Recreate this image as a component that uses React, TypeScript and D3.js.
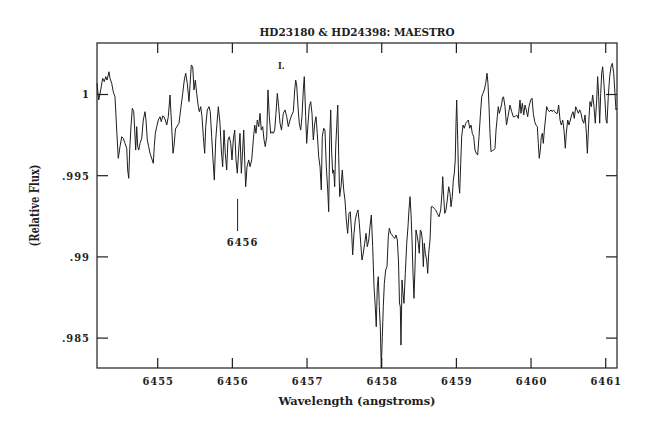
import React from 'react';
import * as d3 from 'd3';

const wavelength = [
6454.187,6454.210,6454.237,6454.263,6454.285,6454.304,6454.321,6454.348,6454.361,6454.384,
6454.405,6454.428,6454.451,6454.472,6454.495,6454.518,6454.539,6454.562,6454.585,6454.598,
6454.612,6454.625,6454.642,6454.660,6454.679,6454.692,6454.705,6454.719,6454.732,6454.746,
6454.763,6454.786,6454.807,6454.830,6454.843,6454.861,6454.879,6454.897,6454.941,6454.954,
6454.968,6454.987,6455.008,6455.031,6455.048,6455.067,6455.084,6455.102,6455.121,6455.142,
6455.165,6455.187,6455.205,6455.218,6455.238,6455.262,6455.285,6455.312,6455.335,6455.356,
6455.375,6455.396,6455.419,6455.433,6455.450,6455.469,6455.486,6455.504,6455.522,6455.544,
6455.557,6455.576,6455.593,6455.611,6455.629,6455.643,6455.664,6455.687,6455.704,6455.723,
6455.741,6455.758,6455.777,6455.794,6455.812,6455.834,6455.852,6455.870,6455.888,6455.905,
6455.924,6455.941,6455.959,6455.978,6455.995,6456.012,6456.031,6456.049,6456.066,6456.085,
6456.102,6456.120,6456.138,6456.152,6456.165,6456.178,6456.196,6456.219,6456.236,6456.259,
6456.280,6456.299,6456.316,6456.334,6456.353,6456.370,6456.387,6456.406,6456.424,6456.441,
6456.460,6456.477,6456.495,6456.513,6456.531,6456.548,6456.567,6456.584,6456.602,6456.620,
6456.638,6456.658,6456.682,6456.705,6456.728,6456.749,6456.772,6456.795,6456.816,6456.835,
6456.848,6456.861,6456.879,6456.896,6456.915,6456.932,6456.950,6456.963,6456.982,6456.995,
6457.013,6457.030,6457.049,6457.066,6457.084,6457.103,6457.120,6457.137,6457.156,6457.174,
6457.191,6457.204,6457.223,6457.240,6457.258,6457.277,6457.290,6457.303,6457.317,6457.330,
6457.344,6457.357,6457.370,6457.384,6457.397,6457.411,6457.424,6457.437,6457.455,6457.472,
6457.491,6457.508,6457.526,6457.544,6457.562,6457.579,6457.598,6457.611,6457.629,6457.646,
6457.665,6457.682,6457.700,6457.719,6457.736,6457.753,6457.772,6457.790,6457.807,6457.826,
6457.843,6457.861,6457.879,6457.897,6457.914,6457.927,6457.941,6457.954,6457.968,6457.981,
6457.994,6458.008,6458.021,6458.035,6458.053,6458.071,6458.088,6458.102,6458.120,6458.138,
6458.155,6458.174,6458.191,6458.209,6458.225,6458.238,6458.249,6458.258,6458.272,6458.285,
6458.298,6458.316,6458.335,6458.352,6458.365,6458.379,6458.392,6458.406,6458.419,6458.432,
6458.446,6458.459,6458.477,6458.490,6458.503,6458.517,6458.530,6458.544,6458.557,6458.570,
6458.584,6458.602,6458.616,6458.629,6458.647,6458.664,6458.683,6458.700,6458.723,6458.744,
6458.767,6458.790,6458.807,6458.817,6458.830,6458.844,6458.861,6458.878,6458.897,6458.915,
6458.928,6458.945,6458.959,6458.972,6458.985,6458.995,6459.004,6459.018,6459.031,6459.044,
6459.058,6459.071,6459.089,6459.106,6459.125,6459.142,6459.160,6459.178,6459.196,6459.213,
6459.232,6459.249,6459.267,6459.285,6459.303,6459.320,6459.339,6459.356,6459.374,6459.393,
6459.410,6459.423,6459.437,6459.450,6459.464,6459.481,6459.500,6459.517,6459.531,6459.548,
6459.561,6459.575,6459.588,6459.604,6459.618,6459.631,6459.651,6459.671,6459.691,6459.718,
6459.741,6459.762,6459.785,6459.808,6459.829,6459.852,6459.865,6459.883,6459.902,6459.919,
6459.936,6459.955,6459.972,6459.995,6460.013,6460.030,6460.049,6460.066,6460.084,6460.097,
6460.110,6460.124,6460.137,6460.151,6460.164,6460.178,6460.196,6460.209,6460.227,6460.247,
6460.267,6460.285,6460.301,6460.317,6460.334,6460.352,6460.370,6460.388,6460.405,6460.424,
6460.441,6460.459,6460.472,6460.491,6460.508,6460.526,6460.544,6460.562,6460.579,6460.598,
6460.616,6460.633,6460.652,6460.669,6460.687,6460.706,6460.723,6460.741,6460.754,6460.772,
6460.789,6460.807,6460.825,6460.843,6460.860,6460.879,6460.892,6460.906,6460.919,6460.933,
6460.946,6460.959,6460.973,6460.990,6461.004,6461.017,6461.034,6461.053,6461.071,6461.088,
6461.107,6461.124,6461.137,6461.151
];

const flux = [
1.00069,0.99966,1.00028,1.00100,1.00079,1.00110,1.00089,1.00140,1.00100,1.00069,
1.00017,0.99986,0.99781,0.99607,0.99679,0.99740,0.99730,0.99699,0.99669,0.99535,
0.99484,0.99658,0.99802,0.99915,0.99894,0.99781,0.99658,0.99802,0.99679,0.99658,
0.99699,0.99730,0.99843,0.99894,0.99843,0.99720,0.99679,0.99638,0.99576,0.99679,
0.99761,0.99802,0.99843,0.99863,0.99833,0.99868,0.99863,0.99843,0.99812,0.99863,
0.99997,0.99802,0.99638,0.99679,0.99788,0.99806,0.99823,0.99925,1.00007,1.00089,
1.00131,1.00069,0.99956,1.00059,1.00182,1.00171,1.00028,1.00089,1.00007,0.99925,
0.99894,0.99925,0.99863,0.99740,0.99638,0.99802,0.99905,0.99925,0.99894,0.99740,
0.99597,0.99473,0.99720,0.99823,0.99925,0.99823,0.99658,0.99555,0.99781,0.99638,
0.99535,0.99720,0.99740,0.99699,0.99597,0.99720,0.99781,0.99597,0.99515,0.99658,
0.99761,0.99515,0.99658,0.99781,0.99597,0.99432,0.99555,0.99597,0.99555,0.99597,
0.99720,0.99812,0.99761,0.99843,0.99802,0.99884,0.99781,0.99802,0.99720,0.99679,
0.99740,1.00028,0.99863,0.99761,0.99771,0.99761,0.99781,0.99884,1.00007,0.99925,
0.99823,0.99781,0.99884,0.99905,0.99863,0.99802,0.99843,0.99874,0.99894,1.00028,
1.00089,1.00059,0.99925,0.99823,0.99781,0.99863,1.00028,1.00110,0.99863,0.99699,
0.99823,0.99925,0.99956,0.99884,0.99720,0.99823,0.99863,0.99761,0.99617,0.99555,
0.99412,0.99740,0.99792,0.99781,0.99555,0.99412,0.99278,0.99720,0.99905,0.99638,
0.99515,0.99535,0.99432,0.99679,0.99802,0.99935,0.99617,0.99371,0.99432,0.99535,
0.99412,0.99350,0.99227,0.99145,0.99268,0.99278,0.99145,0.99012,0.99145,0.99227,
0.99268,0.99289,0.99207,0.99084,0.98981,0.99022,0.99084,0.99145,0.99063,0.99104,
0.99186,0.99258,0.99063,0.98816,0.98693,0.98570,0.98816,0.98878,0.98693,0.98570,
0.98316,0.98508,0.98693,0.98837,0.98919,0.98940,0.99124,0.99176,0.99145,0.99135,
0.99124,0.99114,0.99135,0.99104,0.98969,0.98716,0.98693,0.98457,0.98858,0.98776,
0.98714,0.98899,0.99084,0.99186,0.99289,0.99371,0.99268,0.99104,0.98899,0.98745,
0.98940,0.99166,0.99124,0.99084,0.99022,0.99166,0.99155,0.99104,0.98940,0.99084,
0.99022,0.98981,0.98899,0.99022,0.99104,0.99309,0.99309,0.99299,0.99289,0.99268,
0.99247,0.99289,0.99392,0.99494,0.99371,0.99268,0.99289,0.99350,0.99432,0.99392,
0.99309,0.99371,0.99473,0.99515,0.99597,0.99823,0.99966,0.99720,0.99453,0.99392,
0.99576,0.99740,0.99812,0.99792,0.99823,0.99833,0.99843,0.99792,0.99812,0.99761,
0.99740,0.99658,0.99638,0.99627,0.99740,0.99863,0.99986,1.00007,1.00028,1.00069,
1.00131,1.00069,0.99925,0.99761,0.99648,0.99654,0.99658,0.99669,0.99781,0.99863,
0.99925,0.99884,0.99905,0.99935,0.99978,0.99986,0.99925,0.99812,0.99863,0.99935,
0.99894,0.99863,0.99863,0.99874,0.99853,0.99966,0.99884,0.99946,0.99874,0.99935,
0.99905,0.99863,0.99925,0.99966,0.99977,0.99884,0.99833,0.99812,0.99802,0.99699,
0.99607,0.99658,0.99740,0.99761,0.99699,0.99781,0.99863,0.99925,0.99905,0.99894,
0.99905,0.99894,0.99905,0.99894,0.99884,0.99884,0.99935,0.99843,0.99812,0.99843,
0.99781,0.99669,0.99761,0.99843,0.99812,0.99843,0.99874,0.99894,0.99853,0.99925,
0.99905,0.99884,0.99905,0.99884,0.99843,0.99823,0.99874,0.99761,0.99638,0.99823,
0.99956,0.99925,0.99997,0.99925,0.99823,0.99966,1.00110,0.99986,0.99823,1.00007,
1.00131,1.00171,1.00089,0.99966,0.99843,0.99823,0.99986,1.00110,1.00171,1.00192,
1.00131,1.00007,0.99905,0.99915
];

const xTicks = [6455, 6456, 6457, 6458, 6459, 6460, 6461];
const xTickLabels = ['6455', '6456', '6457', '6458', '6459', '6460', '6461'];
const yTicks = [1, 0.995, 0.99, 0.985];
const yTickLabels = ['1', '.995', '.99', '.985'];
const titleText = 'HD23180 & HD24398: MAESTRO';
const xAxisLabel = 'Wavelength (angstroms)';
const yAxisLabel = '(Relative Flux)';
const markerWavelength = 6456.07;
const markerFluxTop = 0.99357;
const markerFluxBottom = 0.99159;
const markerLabel = '6456';
const errorMarkWavelength = 6456.61;
const errorMarkFlux = 1.00155;
const errorMarkText = 'I.';

const xDomain = [6454.187, 6461.151];
const yDomain = [0.983159, 1.003171];

export default function App() {
  const W = 650, H = 433;
  const left = 97, right = 617, top = 43, bottom = 368;
  const x = d3.scaleLinear().domain(xDomain).range([left, right]);
  const y = d3.scaleLinear().domain(yDomain).range([bottom, top]);
  const line = d3.line<number>()
    .x((_, i) => x(wavelength[i]))
    .y(d => y(d));
  const font = "'DejaVu Serif Condensed', 'DejaVu Serif', serif";
  const tickLen = 10;
  const ink = '#1e1e1e';
  const midX = (left + right) / 2;
  const midY = (top + bottom) / 2;
  const txt = { fontFamily: font, fontWeight: 'bold' as const, fontStretch: 'condensed', fill: ink };
  const tickTxt = { ...txt, letterSpacing: '1px' };

  return (
    <svg width={W} height={H} style={{ position: 'absolute', left: 0, top: 0, background: '#fff' }}>
      <rect x={0} y={0} width={W} height={H} fill="#fff" />
      <text x={midX} y={36} textAnchor="middle" fontSize={11} textLength={195} lengthAdjust="spacingAndGlyphs" style={txt}>{titleText}</text>
      <path d={line(flux) || ''} fill="none" stroke={ink} strokeWidth={1} strokeLinejoin="round" />
      <rect x={left} y={top} width={right - left} height={bottom - top} fill="none" stroke={ink} strokeWidth={1.2} />
      {xTicks.map((t, i) => (
        <g key={'xt' + i}>
          <line x1={x(t)} x2={x(t)} y1={bottom} y2={bottom - tickLen} stroke={ink} strokeWidth={1.2} />
          <line x1={x(t)} x2={x(t)} y1={top} y2={top + tickLen} stroke={ink} strokeWidth={1.2} />
          <text x={x(t) + 0.5} y={385} textAnchor="middle" fontSize={11} style={tickTxt}>{xTickLabels[i]}</text>
        </g>
      ))}
      {yTicks.map((t, i) => (
        <g key={'yt' + i}>
          <line x1={left} x2={left + tickLen + 1} y1={y(t)} y2={y(t)} stroke={ink} strokeWidth={1.2} />
          <line x1={right} x2={right - tickLen - 1} y1={y(t)} y2={y(t)} stroke={ink} strokeWidth={1.2} />
          <text x={90} y={y(t) + 4} textAnchor="end" fontSize={11} style={tickTxt}>{yTickLabels[i]}</text>
        </g>
      ))}
      <line x1={x(markerWavelength)} x2={x(markerWavelength)} y1={y(markerFluxTop)} y2={y(markerFluxBottom)} stroke={ink} strokeWidth={1} />
      <text x={x(markerWavelength) + 5} y={246} textAnchor="middle" fontSize={11} style={tickTxt}>{markerLabel}</text>
      <text x={x(errorMarkWavelength)} y={y(errorMarkFlux)} textAnchor="start" fontSize={9} style={txt}>{errorMarkText}</text>
      <text x={midX} y={405} textAnchor="middle" fontSize={11} textLength={157} lengthAdjust="spacingAndGlyphs" style={txt}>{xAxisLabel}</text>
      <text transform={`translate(39, ${midY}) rotate(-90)`} textAnchor="middle" fontSize={13} textLength={82} lengthAdjust="spacingAndGlyphs" style={txt}>{yAxisLabel}</text>
    </svg>
  );
}
